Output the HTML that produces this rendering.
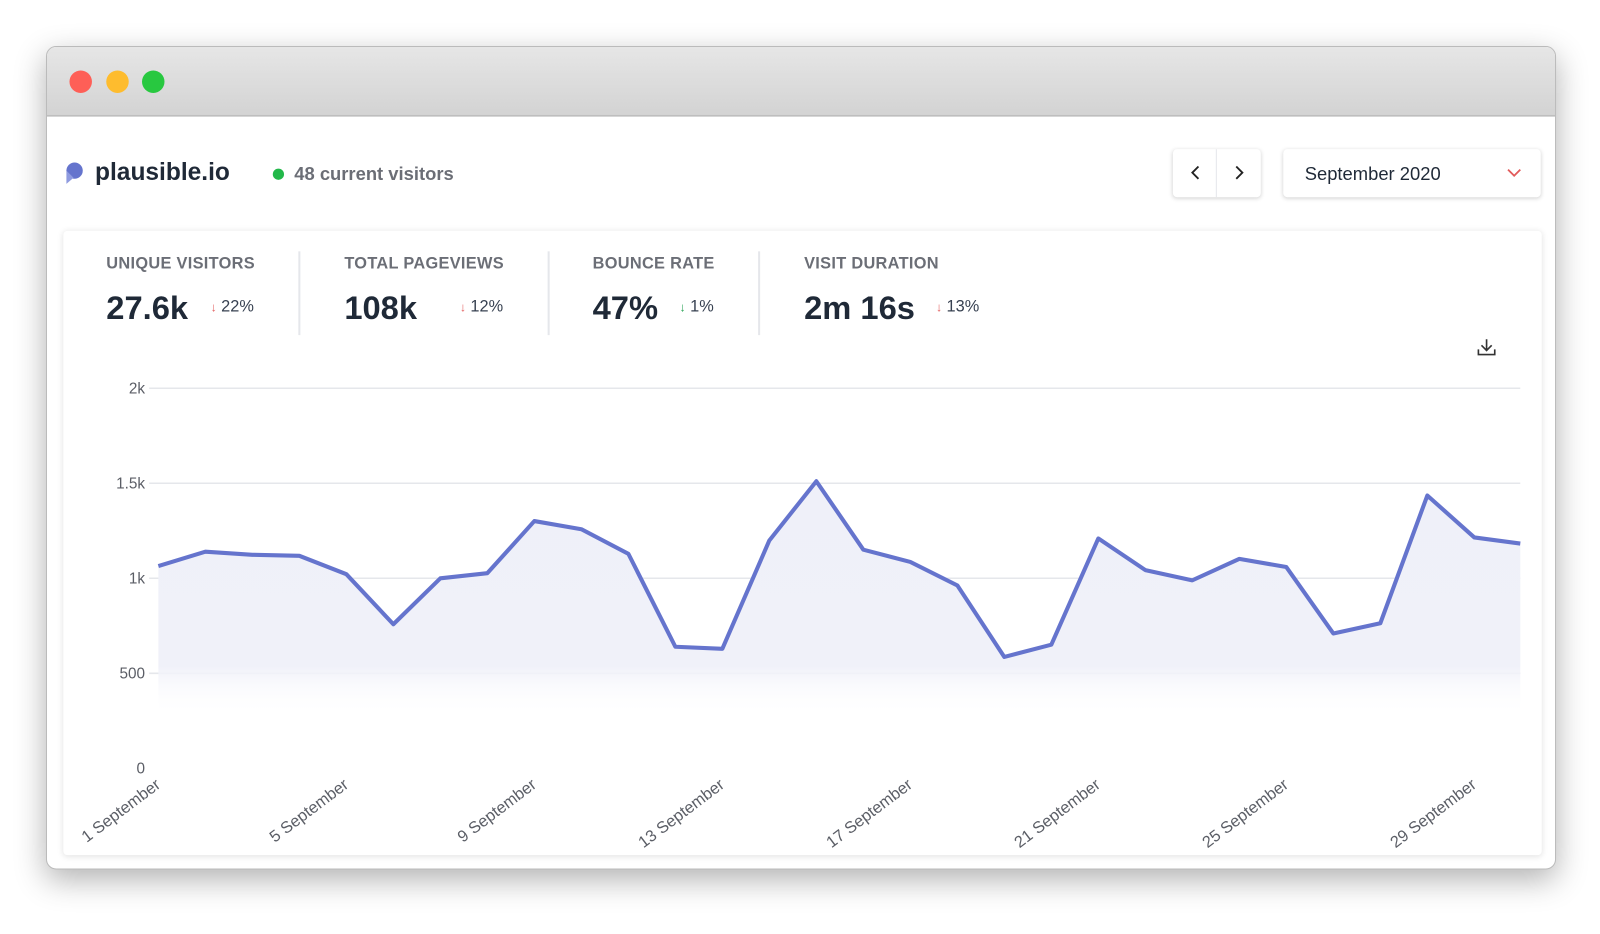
<!DOCTYPE html>
<html><head><meta charset="utf-8"><style>
body{margin:0;width:1600px;height:914px;background:#fff;font-family:"Liberation Sans",sans-serif;position:relative;overflow:hidden}
#root{position:absolute;left:0;top:0;width:1600px;height:914px;transform:scale(1.0217);transform-origin:0 0}
.win{position:absolute;left:45px;top:45px;width:1478px;height:806px;border-radius:10px;background:#fff;box-shadow:0 10px 30px rgba(0,0,0,.3);overflow:hidden;border:1px solid #bbb;box-sizing:border-box}
.bar{position:absolute;left:0;top:0;right:0;height:67px;background:linear-gradient(#e6e6e6,#d3d3d3);border-bottom:1px solid #aaa}
.dot{position:absolute;top:23px;width:22px;height:22px;border-radius:50%}
.a{position:absolute;white-space:nowrap}
.card{position:absolute;left:16px;top:180px;width:1447px;height:611px;background:#fff;box-shadow:0 1px 6px rgba(0,0,0,.12);border-radius:4px}
.lab{font-size:16px;font-weight:bold;color:#6b6e76;letter-spacing:.3px}
.big{font-size:32px;font-weight:bold;color:#1f2937}
.pct{font-size:16px;color:#374151}
.sep{position:absolute;top:246px;width:2px;height:82px;background:#e5e7eb}
</style></head><body><div id="root">
<div class="win">
<div class="bar"><div class="dot" style="left:22px;background:#fe5f57"></div><div class="dot" style="left:58px;background:#febc2e"></div><div class="dot" style="left:93px;background:#28c840"></div></div>
<div class="card"></div>
</div>
<svg class="a" style="left:62px;top:158px" width="20" height="24"><circle cx="11" cy="9" r="8" fill="#6574cd"/><path d="M3 9 L3 22 L10 16 Z" fill="#8f9be0"/></svg>
<div class="a" style="left:93px;top:155px;font-size:24px;font-weight:bold;color:#1f2937">plausible.io</div>
<div class="a" style="left:267px;top:165px;width:11px;height:11px;border-radius:50%;background:#22b84a"></div>
<div class="a" style="left:288px;top:160px;font-size:18px;font-weight:bold;color:#6b6e76">48 current visitors</div>
<div class="a" style="left:1148px;top:146px;width:86px;height:47px;border-radius:4px;box-shadow:0 1px 4px rgba(0,0,0,.18);background:#fff"></div>
<div class="a" style="left:1190px;top:146px;width:1px;height:47px;background:#e5e7eb"></div>
<svg class="a" style="left:1162px;top:161px" width="16" height="16"><path d="M11 2 L5 8 L11 14" stroke="#222" stroke-width="1.8" fill="none"/></svg>
<svg class="a" style="left:1205px;top:161px" width="16" height="16"><path d="M5 2 L11 8 L5 14" stroke="#222" stroke-width="1.8" fill="none"/></svg>
<div class="a" style="left:1256px;top:146px;width:252px;height:47px;border-radius:4px;box-shadow:0 1px 4px rgba(0,0,0,.18);background:#fff"></div>
<div class="a" style="left:1277px;top:160px;font-size:18px;color:#1f2937">September 2020</div>
<svg class="a" style="left:1474px;top:163px" width="16" height="12"><path d="M2 3 L8 9 L14 3" stroke="#e25b5b" stroke-width="1.8" fill="none"/></svg>
<div class="a lab" style="left:104px;top:250px">UNIQUE VISITORS</div>
<div class="a big" style="left:104px;top:283px">27.6k</div>
<div class="a pct" style="left:206px;top:292px"><span style="color:#e25b5b;font-size:12px">↓</span> 22%</div>
<div class="sep" style="left:292px"></div>
<div class="a lab" style="left:337px;top:250px">TOTAL PAGEVIEWS</div>
<div class="a big" style="left:337px;top:283px">108k</div>
<div class="a pct" style="left:450px;top:292px"><span style="color:#e25b5b;font-size:12px">↓</span> 12%</div>
<div class="sep" style="left:536px"></div>
<div class="a lab" style="left:580px;top:250px">BOUNCE RATE</div>
<div class="a big" style="left:580px;top:283px">47%</div>
<div class="a pct" style="left:665px;top:292px"><span style="color:#22a050;font-size:12px">↓</span> 1%</div>
<div class="sep" style="left:742px"></div>
<div class="a lab" style="left:787px;top:250px">VISIT DURATION</div>
<div class="a big" style="left:787px;top:283px">2m 16s</div>
<div class="a pct" style="left:916px;top:292px"><span style="color:#e25b5b;font-size:12px">↓</span> 13%</div>
<svg class="a" style="left:1445px;top:330px" width="22" height="20"><path d="M10 2 V13 M5 8 L10 13 L15 8 M2 12 V17 H18 V12" stroke="#333" stroke-width="1.6" fill="none"/></svg>
<svg class="a" style="left:0;top:0" width="1600" height="914" font-family="Liberation Sans, sans-serif">
<defs><linearGradient id="g" x1="0" y1="380" x2="0" y2="700" gradientUnits="userSpaceOnUse"><stop offset="0" stop-color="#eef0f9"/><stop offset="0.85" stop-color="#f0f1f9"/><stop offset="1" stop-color="#fff" stop-opacity="0"/></linearGradient></defs>
<g stroke="#e5e7eb" stroke-width="1.5"><line x1="146" y1="380" x2="1488" y2="380"/><line x1="146" y1="473" x2="1488" y2="473"/><line x1="146" y1="566" x2="1488" y2="566"/><line x1="146" y1="659" x2="1488" y2="659"/></g>
<g fill="#5b5e66" font-size="15" text-anchor="end"><text x="142" y="385">2k</text><text x="142" y="478">1.5k</text><text x="142" y="571">1k</text><text x="142" y="664">500</text><text x="142" y="757">0</text></g>
<polygon fill="url(#g)" points="155,700 155,554 201,540 247,543 293,544 339,562 385,611 431,566 477,561 523,510 569,518 615,542 661,633 707,635 753,529 799,471 845,538 891,550 937,573 983,643 1029,631 1075,527 1121,558 1167,568 1213,547 1259,555 1305,620 1351,610 1397,485 1443,526 1488,532 1488,700"/>
<polyline fill="none" stroke="#6574cd" stroke-width="4" stroke-linejoin="round" points="155,554 201,540 247,543 293,544 339,562 385,611 431,566 477,561 523,510 569,518 615,542 661,633 707,635 753,529 799,471 845,538 891,550 937,573 983,643 1029,631 1075,527 1121,558 1167,568 1213,547 1259,555 1305,620 1351,610 1397,485 1443,526 1488,532"/>
<g fill="#5b5e66" font-size="16" text-anchor="end">
<text transform="translate(158,770) rotate(-37)">1 September</text>
<text transform="translate(342,770) rotate(-37)">5 September</text>
<text transform="translate(526,770) rotate(-37)">9 September</text>
<text transform="translate(710,770) rotate(-37)">13 September</text>
<text transform="translate(894,770) rotate(-37)">17 September</text>
<text transform="translate(1078,770) rotate(-37)">21 September</text>
<text transform="translate(1262,770) rotate(-37)">25 September</text>
<text transform="translate(1446,770) rotate(-37)">29 September</text>
</g></svg>
</div></body></html>
